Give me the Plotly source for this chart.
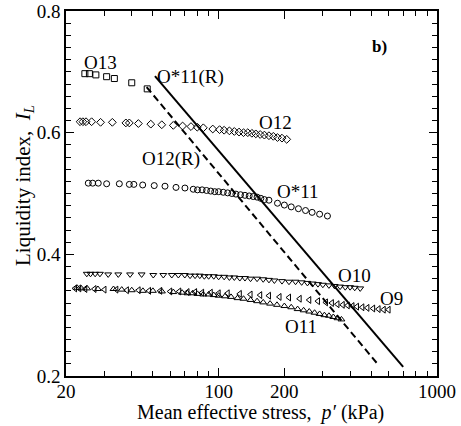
import math
import plotly.graph_objects as go

# ---- data (p' in kPa, liquidity index) ----
o13_p = [24.4, 25.6, 27.4, 30.7, 33.3, 40.0, 47.1]
o13_i = [0.697, 0.697, 0.695, 0.692, 0.689, 0.682, 0.672]

o12_p = [23.2, 23.9, 24.7, 26.2, 28.8, 32.6, 37.6, 39.0, 42.9, 48.9, 54.9, 62, 68.4, 74.7,
         79.8, 85.1, 94, 101, 106, 112, 118, 124, 130, 136, 142, 148, 155, 162, 170, 178,
         186, 195, 205]
o12_i = [0.618, 0.618, 0.618, 0.618, 0.617, 0.617, 0.616, 0.616, 0.615, 0.614, 0.613, 0.612,
         0.611, 0.610, 0.609, 0.608, 0.606, 0.605, 0.604, 0.603, 0.602, 0.601, 0.600, 0.600,
         0.599, 0.598, 0.597, 0.596, 0.595, 0.594, 0.592, 0.591, 0.589]

o11s_p = [25.3, 26.5, 28.1, 30.7, 35.1, 39.0, 40.9, 44.9, 50.7, 56.8, 63.8, 70.1, 76.5, 80,
          84, 88, 92, 96, 100, 105, 110, 115, 120, 126, 132, 138, 144, 150, 156, 162, 170,
          186, 200, 215, 232, 250, 268, 290, 315]
o11s_i = [0.517, 0.517, 0.517, 0.516, 0.516, 0.515, 0.515, 0.514, 0.513, 0.512, 0.510, 0.509,
          0.507, 0.506, 0.506, 0.505, 0.504, 0.503, 0.503, 0.502, 0.501, 0.500, 0.499, 0.498,
          0.497, 0.496, 0.495, 0.494, 0.492, 0.490, 0.489, 0.484, 0.481, 0.478, 0.475, 0.472,
          0.469, 0.466, 0.463]

o10_p = [24.9, 25.9, 27.2, 28.6, 31.2, 34.7, 39.3, 44.4, 50.2, 55.8, 61, 65.4, 70, 74, 78,
         82, 86, 90, 95, 100, 106, 112, 118, 125, 132, 140, 150, 160, 170, 180, 195, 210,
         225, 240, 255, 270, 285, 300, 320, 340, 360, 380, 400, 420, 445]
o10_i = [0.368, 0.368, 0.368, 0.368, 0.367, 0.367, 0.367, 0.367, 0.366, 0.366, 0.366, 0.366,
         0.366, 0.365, 0.365, 0.365, 0.364, 0.364, 0.364, 0.363, 0.363, 0.362, 0.362, 0.361,
         0.361, 0.360, 0.360, 0.359, 0.358, 0.357, 0.356, 0.355, 0.355, 0.354, 0.353, 0.352,
         0.351, 0.350, 0.349, 0.348, 0.347, 0.346, 0.346, 0.345, 0.344]

o9_p = [22.0, 23, 24.5, 27, 30, 34, 38, 43, 48, 54, 60, 66, 72, 78, 84, 92, 100, 110, 125,
        140, 155, 170, 190, 210, 235, 260, 285, 310, 330, 350, 370, 390, 410, 430, 455, 480,
        510, 540, 570, 600]
o9_i = [0.344, 0.344, 0.343, 0.343, 0.342, 0.342, 0.341, 0.341, 0.340, 0.340, 0.339, 0.339,
        0.338, 0.338, 0.337, 0.337, 0.336, 0.336, 0.335, 0.334, 0.333, 0.332, 0.330, 0.329,
        0.327, 0.325, 0.323, 0.321, 0.320, 0.318, 0.317, 0.316, 0.315, 0.314, 0.313, 0.312,
        0.311, 0.310, 0.309, 0.309]

o11_p = [22.5, 23.5, 25, 28, 33, 36, 40, 45, 50, 55, 62, 68, 72, 76, 80, 85, 90, 95, 100,
         107, 114, 122, 130, 140, 150, 160, 172, 185, 200, 215, 230, 245, 260, 275, 290,
         305, 320, 335, 350, 365]
o11_i = [0.345, 0.344, 0.344, 0.343, 0.343, 0.342, 0.341, 0.340, 0.340, 0.339, 0.338, 0.337,
         0.336, 0.336, 0.335, 0.334, 0.334, 0.333, 0.332, 0.331, 0.330, 0.328, 0.327, 0.325,
         0.323, 0.321, 0.319, 0.317, 0.315, 0.313, 0.310, 0.308, 0.306, 0.304, 0.302, 0.300,
         0.299, 0.297, 0.295, 0.293]

line_r_solid_p = [51.1, 700]
line_r_solid_i = [0.693, 0.215]
line_r_dash_p = [46.8, 531]
line_r_dash_i = [0.675, 0.221]

label_text = ["O13", "O*11(R)", "O12(R)", "O12", "O*11", "O10", "O9", "O11"]
label_p = [28.9, 74.7, 60.5, 183, 231, 417, 622, 238]
label_i = [0.716, 0.6915, 0.557, 0.616, 0.5025, 0.366, 0.3266, 0.2806]

x_major = [20, 100, 200, 1000]
x_minor = [30, 40, 50, 60, 70, 80, 90, 300, 400, 500, 600, 700, 800, 900]
y_major = [0.2, 0.4, 0.6, 0.8]

FONT = "Liberation Serif, Times New Roman, serif"

fig = go.Figure()

series = [
    (o13_p, o13_i, "square-open"),
    (o12_p, o12_i, "diamond-open"),
    (o11s_p, o11s_i, "circle-open"),
    (o10_p, o10_i, "triangle-down-open"),
    (o9_p, o9_i, "triangle-left-open"),
    (o11_p, o11_i, "triangle-up-open"),
]
for xs, ys, sym in series:
    fig.add_trace(go.Scatter(x=xs, y=ys, mode="markers",
                             marker=dict(symbol=sym, size=6, color="black",
                                         line=dict(color="black", width=1)),
                             showlegend=False))

fig.add_trace(go.Scatter(x=line_r_solid_p, y=line_r_solid_i, mode="lines",
                         line=dict(color="black", width=2), showlegend=False))
fig.add_trace(go.Scatter(x=line_r_dash_p, y=line_r_dash_i, mode="lines",
                         line=dict(color="black", width=2, dash="7px,4px"), showlegend=False))

for t, px, iy in zip(label_text, label_p, label_i):
    fig.add_annotation(x=math.log10(px), y=iy, xref="x", yref="y", text=t,
                       showarrow=False, font=dict(family=FONT, size=19, color="black"))

fig.add_annotation(x=math.log10(548), y=0.741, xref="x", yref="y", text="<b>b)</b>",
                   showarrow=False, font=dict(family=FONT, size=17, color="black"))

fig.add_annotation(x=(24 - 66) / 371, y=(376 - 186) / 365, xref="paper", yref="paper",
                   xanchor="center", yanchor="middle",
                   text="Liquidity index,  <i>I</i><sub><i>L</i></sub>", textangle=-90,
                   showarrow=False, font=dict(family=FONT, size=21, color="black"))

fig.add_annotation(x=(260 - 66) / 371, y=(376 - 412) / 365, xref="paper", yref="paper",
                   xanchor="center", yanchor="middle",
                   text="Mean effective stress,  <i>p\u2032</i> (kPa)",
                   showarrow=False, font=dict(family=FONT, size=20, color="black"))

fig.update_xaxes(type="log", range=[math.log10(20), math.log10(1000)], automargin=False,
                 tickmode="array", tickvals=x_major, ticktext=[str(v) for v in x_major],
                 ticks="inside", ticklen=8, tickwidth=1, tickcolor="black",
                 ticklabelstandoff=-3, ticklabeloverflow="allow",
                 minor=dict(tickmode="array", tickvals=x_minor, ticks="inside", ticklen=5,
                            tickwidth=1, tickcolor="black"),
                 showline=True, linecolor="black", linewidth=1.5, mirror="ticks",
                 showgrid=False, zeroline=False,
                 tickfont=dict(family=FONT, size=19, color="black"))
fig.update_yaxes(range=[0.2, 0.8], automargin=False, tickmode="array", tickvals=y_major,
                 ticktext=["0.2", "0.4", "0.6", "0.8"], ticklabeloverflow="allow",
                 ticks="inside", ticklen=8, tickwidth=1, tickcolor="black",
                 minor=dict(dtick=0.02, ticks="inside", ticklen=5, tickwidth=1,
                            tickcolor="black"),
                 showline=True, linecolor="black", linewidth=1.5, mirror="ticks",
                 showgrid=False, zeroline=False,
                 tickfont=dict(family=FONT, size=19, color="black"))

fig.update_layout(width=461, height=426, margin=dict(l=66, r=24, t=11, b=50),
                  paper_bgcolor="white", plot_bgcolor="white",
                  font=dict(family=FONT, color="black"))

fig.write_html("out.html", config={"displayModeBar": False},
               post_script="document.body.style.margin='0';document.body.style.overflow='hidden';")
